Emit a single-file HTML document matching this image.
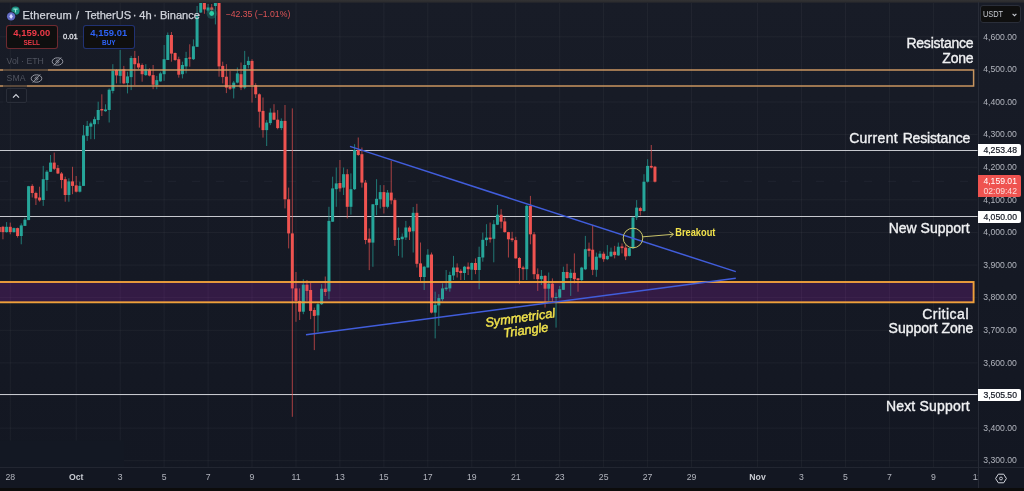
<!DOCTYPE html>
<html lang="en">
<head>
<meta charset="utf-8">
<title>Ethereum / TetherUS · 4h · Binance</title>
<style>
*{box-sizing:border-box;margin:0;padding:0}
html,body{width:1024px;height:491px;overflow:hidden;background:#131722}
body{background:linear-gradient(to bottom,#181c27 0,#131722 470px,#131722 100%)}
body{position:relative;font-family:"Liberation Sans",sans-serif;color:#d1d4dc}
#chart{position:absolute;left:0;top:0;width:1024px;height:491px}
.topbar{position:absolute;left:0;top:0;width:1024px;height:3px;background:linear-gradient(#323234 0,#2c2c2e 60%,#1d2029 100%)}
.botbar{position:absolute;left:0;top:488px;width:1024px;height:3px;background:#0c0c0c}
.paxis{position:absolute;left:977.5px;top:2px;width:46.5px;height:486px;border-left:1px solid #272b36;z-index:2;pointer-events:none}
.taxis{position:absolute;left:0;top:467px;width:1024px;height:21px;background:#131722;border-top:1px solid #222631}
.tclip{position:absolute;left:0;top:0;width:977.5px;height:100%;overflow:hidden}
.pl{position:absolute;left:983.3px;width:40px;height:12px;line-height:12px;font-size:8.65px;color:#b2b5be;white-space:nowrap}
.tl{position:absolute;top:3.4px;width:40px;text-align:center;font-size:8.7px;line-height:12px;color:#b2b5be}
.tl.b{font-weight:700;color:#c8cbd2}
.tag{z-index:3;position:absolute;left:977.5px;width:43.3px;height:12px;line-height:12px;font-size:8.65px;background:#fff;color:#131722;border-radius:0 2px 2px 0;padding-left:5.9px;white-space:nowrap;-webkit-text-stroke:0.2px #131722}
.ptag{z-index:3;position:absolute;left:977.5px;top:175.3px;width:43.3px;height:22px;background:#ef5350;color:#fff;border-radius:0 2px 2px 0;font-size:8.65px;line-height:10.3px;padding:0.6px 0 0 5.9px;white-space:nowrap}
.ptag span{display:block;color:#fbd9d8}
.usdt{position:absolute;left:980.4px;top:5.3px;width:41px;height:18.2px;border:1px solid #2a2e39;border-radius:3px;background:#0f0f0f;font-size:8.8px;line-height:16px;padding-left:1.6px;color:#c8cbd2}
.usdt span{display:inline-block;transform:scaleX(0.84);transform-origin:0 50%}
.usdt svg{position:absolute;right:3px;top:6.6px}
.lbl{position:absolute;right:51px;text-align:right;font-size:14px;line-height:14px;color:#f0f1f3;white-space:pre;-webkit-text-stroke:0.36px #f0f1f3}
.hdr{position:absolute;left:0;top:7.9px;font-size:11.1px;line-height:14px;color:#d1d4dc;white-space:nowrap;-webkit-text-stroke:0.25px #d1d4dc}
.hdr span{position:absolute;top:0}
.chg{position:absolute;left:225.6px;top:8.2px;font-size:8.7px;line-height:12px;color:#db5456;white-space:nowrap}
.btn{position:absolute;top:25px;width:51.6px;height:24.4px;border-radius:3px;background:#0f0f0f;text-align:center;font-weight:700}
.btn b{display:block;font-size:9.4px;line-height:10px;margin-top:1.9px;letter-spacing:0.05px}
.btn i{display:block;font-style:normal;font-size:7.7px;line-height:9px;font-weight:700;transform:scaleX(0.84);margin-top:0.2px}
.sell{left:6px;border:1px solid rgba(242,80,95,0.42);color:#ee3a48}
.buy{left:83px;border:1px solid rgba(60,100,255,0.42);color:#2d62f5}
.spread{position:absolute;left:63px;top:31.7px;font-size:7.6px;line-height:10px;color:#e0e2e8;-webkit-text-stroke:0.3px #e0e2e8}
.ind{position:absolute;left:6.6px;font-size:8.7px;line-height:12px;color:#50545f;white-space:nowrap}
.col{position:absolute;left:5.8px;top:88.4px;width:21px;height:15px;border:1px solid #2a2e39;border-radius:2px}
</style>
</head>
<body>
<svg id="chart" width="1024" height="491" viewBox="0 0 1024 491">
<g stroke="rgba(255,255,255,0.045)" stroke-width="1" shape-rendering="auto"><line x1="0" y1="460.73" x2="977.5" y2="460.73"/><line x1="0" y1="428.12" x2="977.5" y2="428.12"/><line x1="0" y1="395.51" x2="977.5" y2="395.51"/><line x1="0" y1="362.9" x2="977.5" y2="362.9"/><line x1="0" y1="330.29" x2="977.5" y2="330.29"/><line x1="0" y1="297.68" x2="977.5" y2="297.68"/><line x1="0" y1="265.07" x2="977.5" y2="265.07"/><line x1="0" y1="232.46" x2="977.5" y2="232.46"/><line x1="0" y1="199.85" x2="977.5" y2="199.85"/><line x1="0" y1="167.24" x2="977.5" y2="167.24"/><line x1="0" y1="134.63" x2="977.5" y2="134.63"/><line x1="0" y1="102.02" x2="977.5" y2="102.02"/><line x1="0" y1="69.41" x2="977.5" y2="69.41"/><line x1="0" y1="36.8" x2="977.5" y2="36.8"/><line x1="10.27" y1="2" x2="10.27" y2="467"/><line x1="76.2" y1="2" x2="76.2" y2="467"/><line x1="120.16" y1="2" x2="120.16" y2="467"/><line x1="164.11" y1="2" x2="164.11" y2="467"/><line x1="208.07" y1="2" x2="208.07" y2="467"/><line x1="252.02" y1="2" x2="252.02" y2="467"/><line x1="295.98" y1="2" x2="295.98" y2="467"/><line x1="339.94" y1="2" x2="339.94" y2="467"/><line x1="383.89" y1="2" x2="383.89" y2="467"/><line x1="427.85" y1="2" x2="427.85" y2="467"/><line x1="471.8" y1="2" x2="471.8" y2="467"/><line x1="515.76" y1="2" x2="515.76" y2="467"/><line x1="559.72" y1="2" x2="559.72" y2="467"/><line x1="603.67" y1="2" x2="603.67" y2="467"/><line x1="647.63" y1="2" x2="647.63" y2="467"/><line x1="691.58" y1="2" x2="691.58" y2="467"/><line x1="757.52" y1="2" x2="757.52" y2="467"/><line x1="801.47" y1="2" x2="801.47" y2="467"/><line x1="845.43" y1="2" x2="845.43" y2="467"/><line x1="889.39" y1="2" x2="889.39" y2="467"/><line x1="933.34" y1="2" x2="933.34" y2="467"/></g>
<rect x="0" y="440.5" width="124" height="27" fill="#131823"/>
<line x1="0" y1="150.45" x2="977.5" y2="150.45" stroke="#c6c8ce" stroke-width="1.05"/>
<line x1="0" y1="216.55" x2="977.5" y2="216.55" stroke="#c6c8ce" stroke-width="1.05"/>
<line x1="0" y1="394.5" x2="977.5" y2="394.5" stroke="#c6c8ce" stroke-width="1.05"/>
<line x1="0" y1="181.3" x2="977" y2="181.3" stroke="rgba(200,205,225,0.06)" stroke-width="1" stroke-dasharray="8 16"/>
<rect x="-5" y="282" width="978.6" height="20.3" fill="rgba(150,36,176,0.2)"/>
<g stroke-width="0.8" opacity="0.85"><line x1="-0.72" y1="226" x2="-0.72" y2="233" stroke="#ef5350"/><line x1="2.94" y1="225.9" x2="2.94" y2="239.3" stroke="#ef5350"/><line x1="6.6" y1="222.1" x2="6.6" y2="232.6" stroke="#26a69a"/><line x1="10.27" y1="222.6" x2="10.27" y2="234.3" stroke="#ef5350"/><line x1="13.93" y1="227.6" x2="13.93" y2="232.6" stroke="#26a69a"/><line x1="17.59" y1="227.6" x2="17.59" y2="237.6" stroke="#ef5350"/><line x1="21.26" y1="223.4" x2="21.26" y2="244.3" stroke="#26a69a"/><line x1="24.92" y1="217.6" x2="24.92" y2="225.9" stroke="#26a69a"/><line x1="28.58" y1="185.9" x2="28.58" y2="220.1" stroke="#26a69a"/><line x1="32.24" y1="184.2" x2="32.24" y2="197.5" stroke="#ef5350"/><line x1="35.91" y1="191.7" x2="35.91" y2="205" stroke="#ef5350"/><line x1="39.57" y1="186.7" x2="39.57" y2="201.7" stroke="#ef5350"/><line x1="43.23" y1="165.9" x2="43.23" y2="205.9" stroke="#26a69a"/><line x1="46.9" y1="170.1" x2="46.9" y2="190.9" stroke="#26a69a"/><line x1="50.56" y1="155" x2="50.56" y2="172" stroke="#26a69a"/><line x1="54.22" y1="152.6" x2="54.22" y2="170" stroke="#ef5350"/><line x1="57.89" y1="165" x2="57.89" y2="174" stroke="#ef5350"/><line x1="61.55" y1="172" x2="61.55" y2="188.4" stroke="#ef5350"/><line x1="65.21" y1="176.7" x2="65.21" y2="201.7" stroke="#ef5350"/><line x1="68.87" y1="178.3" x2="68.87" y2="201.7" stroke="#26a69a"/><line x1="72.54" y1="166.8" x2="72.54" y2="194.2" stroke="#ef5350"/><line x1="76.2" y1="176" x2="76.2" y2="192.5" stroke="#ef5350"/><line x1="79.86" y1="181.7" x2="79.86" y2="192.5" stroke="#26a69a"/><line x1="83.53" y1="125" x2="83.53" y2="185.9" stroke="#26a69a"/><line x1="87.19" y1="120.9" x2="87.19" y2="140.9" stroke="#26a69a"/><line x1="90.85" y1="121.7" x2="90.85" y2="139.2" stroke="#26a69a"/><line x1="94.52" y1="116.7" x2="94.52" y2="139.2" stroke="#26a69a"/><line x1="98.18" y1="101.7" x2="98.18" y2="124.2" stroke="#26a69a"/><line x1="101.84" y1="94.3" x2="101.84" y2="116" stroke="#ef5350"/><line x1="105.5" y1="104.3" x2="105.5" y2="111.8" stroke="#26a69a"/><line x1="109.17" y1="88.4" x2="109.17" y2="122.5" stroke="#26a69a"/><line x1="112.83" y1="64.2" x2="112.83" y2="93.4" stroke="#26a69a"/><line x1="116.49" y1="69.2" x2="116.49" y2="83.4" stroke="#ef5350"/><line x1="120.16" y1="50" x2="120.16" y2="83.4" stroke="#26a69a"/><line x1="123.82" y1="65.9" x2="123.82" y2="84.2" stroke="#ef5350"/><line x1="127.48" y1="71.7" x2="127.48" y2="93.4" stroke="#26a69a"/><line x1="131.15" y1="55.9" x2="131.15" y2="90.1" stroke="#26a69a"/><line x1="134.81" y1="50.9" x2="134.81" y2="85.1" stroke="#ef5350"/><line x1="138.47" y1="55.9" x2="138.47" y2="69.2" stroke="#ef5350"/><line x1="142.13" y1="63.4" x2="142.13" y2="81.7" stroke="#ef5350"/><line x1="145.8" y1="64.2" x2="145.8" y2="75.9" stroke="#26a69a"/><line x1="149.46" y1="68.4" x2="149.46" y2="76.4" stroke="#ef5350"/><line x1="153.12" y1="65" x2="153.12" y2="89.2" stroke="#ef5350"/><line x1="156.79" y1="75.9" x2="156.79" y2="89.2" stroke="#26a69a"/><line x1="160.45" y1="71.7" x2="160.45" y2="81.7" stroke="#26a69a"/><line x1="164.11" y1="45" x2="164.11" y2="80.9" stroke="#26a69a"/><line x1="167.77" y1="32.5" x2="167.77" y2="60" stroke="#26a69a"/><line x1="171.44" y1="32" x2="171.44" y2="61.7" stroke="#ef5350"/><line x1="175.1" y1="52.5" x2="175.1" y2="60.9" stroke="#ef5350"/><line x1="178.76" y1="56.7" x2="178.76" y2="77.6" stroke="#ef5350"/><line x1="182.43" y1="61.7" x2="182.43" y2="78.4" stroke="#26a69a"/><line x1="186.09" y1="51.8" x2="186.09" y2="73.4" stroke="#26a69a"/><line x1="189.75" y1="44.3" x2="189.75" y2="66.7" stroke="#ef5350"/><line x1="193.42" y1="39.4" x2="193.42" y2="60" stroke="#26a69a"/><line x1="197.08" y1="6" x2="197.08" y2="47" stroke="#26a69a"/><line x1="200.74" y1="2" x2="200.74" y2="13" stroke="#26a69a"/><line x1="204.4" y1="2" x2="204.4" y2="13.8" stroke="#ef5350"/><line x1="208.07" y1="4" x2="208.07" y2="12.5" stroke="#26a69a"/><line x1="211.73" y1="4" x2="211.73" y2="14" stroke="#ef5350"/><line x1="215.39" y1="2" x2="215.39" y2="24.4" stroke="#26a69a"/><line x1="219.06" y1="2" x2="219.06" y2="76.7" stroke="#ef5350"/><line x1="222.72" y1="61.7" x2="222.72" y2="83.4" stroke="#ef5350"/><line x1="226.38" y1="64.2" x2="226.38" y2="93.1" stroke="#ef5350"/><line x1="230.05" y1="70.9" x2="230.05" y2="90" stroke="#ef5350"/><line x1="233.71" y1="80.9" x2="233.71" y2="98.4" stroke="#26a69a"/><line x1="237.37" y1="67.5" x2="237.37" y2="83.4" stroke="#26a69a"/><line x1="241.03" y1="62.5" x2="241.03" y2="90.1" stroke="#ef5350"/><line x1="244.7" y1="50.9" x2="244.7" y2="89.2" stroke="#26a69a"/><line x1="248.36" y1="56.7" x2="248.36" y2="68.4" stroke="#26a69a"/><line x1="252.02" y1="59.2" x2="252.02" y2="102.6" stroke="#ef5350"/><line x1="255.69" y1="83.2" x2="255.69" y2="98" stroke="#ef5350"/><line x1="259.35" y1="93.4" x2="259.35" y2="127.6" stroke="#ef5350"/><line x1="263.01" y1="97.5" x2="263.01" y2="137.6" stroke="#ef5350"/><line x1="266.68" y1="120.1" x2="266.68" y2="146" stroke="#26a69a"/><line x1="270.34" y1="108.4" x2="270.34" y2="125.1" stroke="#26a69a"/><line x1="274" y1="104.2" x2="274" y2="120.1" stroke="#ef5350"/><line x1="277.67" y1="110.1" x2="277.67" y2="129.3" stroke="#ef5350"/><line x1="281.33" y1="118.4" x2="281.33" y2="130.1" stroke="#26a69a"/><line x1="284.99" y1="105" x2="284.99" y2="208.4" stroke="#ef5350"/><line x1="288.65" y1="187.6" x2="288.65" y2="248.4" stroke="#ef5350"/><line x1="292.32" y1="108.4" x2="292.32" y2="416.8" stroke="#ef5350"/><line x1="295.98" y1="272" x2="295.98" y2="321.8" stroke="#ef5350"/><line x1="299.64" y1="288.4" x2="299.64" y2="320" stroke="#ef5350"/><line x1="303.31" y1="279.2" x2="303.31" y2="314.2" stroke="#26a69a"/><line x1="306.97" y1="280" x2="306.97" y2="300.9" stroke="#ef5350"/><line x1="310.63" y1="282.5" x2="310.63" y2="319.2" stroke="#ef5350"/><line x1="314.3" y1="307.6" x2="314.3" y2="350.1" stroke="#ef5350"/><line x1="317.96" y1="301.7" x2="317.96" y2="331.8" stroke="#26a69a"/><line x1="321.62" y1="284.2" x2="321.62" y2="305" stroke="#26a69a"/><line x1="325.28" y1="276.5" x2="325.28" y2="295.9" stroke="#ef5350"/><line x1="328.95" y1="206.8" x2="328.95" y2="299.2" stroke="#26a69a"/><line x1="332.61" y1="176.7" x2="332.61" y2="222" stroke="#26a69a"/><line x1="336.27" y1="167.5" x2="336.27" y2="206.8" stroke="#26a69a"/><line x1="339.94" y1="160" x2="339.94" y2="191.7" stroke="#ef5350"/><line x1="343.6" y1="167.5" x2="343.6" y2="195" stroke="#26a69a"/><line x1="347.26" y1="169.2" x2="347.26" y2="218.4" stroke="#ef5350"/><line x1="350.92" y1="173.4" x2="350.92" y2="214.6" stroke="#26a69a"/><line x1="354.59" y1="144.2" x2="354.59" y2="190" stroke="#26a69a"/><line x1="358.25" y1="137.5" x2="358.25" y2="155.9" stroke="#ef5350"/><line x1="361.91" y1="147.5" x2="361.91" y2="187.6" stroke="#ef5350"/><line x1="365.58" y1="180" x2="365.58" y2="244.2" stroke="#ef5350"/><line x1="369.24" y1="228.4" x2="369.24" y2="270.1" stroke="#ef5350"/><line x1="372.9" y1="204" x2="372.9" y2="266.8" stroke="#26a69a"/><line x1="376.57" y1="179.2" x2="376.57" y2="215.1" stroke="#26a69a"/><line x1="380.23" y1="185.1" x2="380.23" y2="208.4" stroke="#26a69a"/><line x1="383.89" y1="185.1" x2="383.89" y2="213.5" stroke="#ef5350"/><line x1="387.55" y1="190" x2="387.55" y2="208.4" stroke="#26a69a"/><line x1="391.22" y1="160.9" x2="391.22" y2="204.3" stroke="#ef5350"/><line x1="394.88" y1="198.4" x2="394.88" y2="245.9" stroke="#ef5350"/><line x1="398.54" y1="227.5" x2="398.54" y2="255.9" stroke="#26a69a"/><line x1="402.21" y1="233.4" x2="402.21" y2="257.6" stroke="#26a69a"/><line x1="405.87" y1="220.9" x2="405.87" y2="240" stroke="#26a69a"/><line x1="409.53" y1="225.9" x2="409.53" y2="240" stroke="#ef5350"/><line x1="413.2" y1="207" x2="413.2" y2="252.5" stroke="#26a69a"/><line x1="416.86" y1="203.8" x2="416.86" y2="267.5" stroke="#ef5350"/><line x1="420.52" y1="242.5" x2="420.52" y2="280.9" stroke="#ef5350"/><line x1="424.18" y1="265.9" x2="424.18" y2="290" stroke="#26a69a"/><line x1="427.85" y1="249.2" x2="427.85" y2="267.5" stroke="#26a69a"/><line x1="431.51" y1="252.5" x2="431.51" y2="313.4" stroke="#ef5350"/><line x1="435.17" y1="291.7" x2="435.17" y2="338.4" stroke="#26a69a"/><line x1="438.84" y1="294.2" x2="438.84" y2="325.9" stroke="#26a69a"/><line x1="442.5" y1="283.4" x2="442.5" y2="300.9" stroke="#26a69a"/><line x1="446.16" y1="270" x2="446.16" y2="290.9" stroke="#26a69a"/><line x1="449.83" y1="271.7" x2="449.83" y2="291.7" stroke="#26a69a"/><line x1="453.49" y1="255.9" x2="453.49" y2="280" stroke="#26a69a"/><line x1="457.15" y1="263.4" x2="457.15" y2="277.5" stroke="#ef5350"/><line x1="460.81" y1="269.2" x2="460.81" y2="280" stroke="#ef5350"/><line x1="464.48" y1="265.9" x2="464.48" y2="280" stroke="#26a69a"/><line x1="468.14" y1="262.5" x2="468.14" y2="275" stroke="#ef5350"/><line x1="471.8" y1="262.5" x2="471.8" y2="280" stroke="#26a69a"/><line x1="475.47" y1="258.4" x2="475.47" y2="274.2" stroke="#ef5350"/><line x1="479.13" y1="246.7" x2="479.13" y2="289.2" stroke="#26a69a"/><line x1="482.79" y1="232.6" x2="482.79" y2="261.7" stroke="#26a69a"/><line x1="486.46" y1="224.2" x2="486.46" y2="246" stroke="#26a69a"/><line x1="490.12" y1="222.6" x2="490.12" y2="242.6" stroke="#ef5350"/><line x1="493.78" y1="220.1" x2="493.78" y2="262.3" stroke="#26a69a"/><line x1="497.44" y1="205" x2="497.44" y2="225.1" stroke="#26a69a"/><line x1="501.11" y1="209.2" x2="501.11" y2="228.4" stroke="#ef5350"/><line x1="504.77" y1="217.6" x2="504.77" y2="232.6" stroke="#ef5350"/><line x1="508.43" y1="231.8" x2="508.43" y2="257.5" stroke="#ef5350"/><line x1="512.1" y1="231.8" x2="512.1" y2="241.8" stroke="#ef5350"/><line x1="515.76" y1="236.8" x2="515.76" y2="258.5" stroke="#ef5350"/><line x1="519.42" y1="257" x2="519.42" y2="284.2" stroke="#ef5350"/><line x1="523.09" y1="265.9" x2="523.09" y2="280" stroke="#ef5350"/><line x1="526.75" y1="205" x2="526.75" y2="280" stroke="#26a69a"/><line x1="530.41" y1="195.9" x2="530.41" y2="244.3" stroke="#ef5350"/><line x1="534.08" y1="232.1" x2="534.08" y2="279.2" stroke="#ef5350"/><line x1="537.74" y1="268.4" x2="537.74" y2="290.9" stroke="#ef5350"/><line x1="541.4" y1="270" x2="541.4" y2="285" stroke="#26a69a"/><line x1="545.06" y1="275" x2="545.06" y2="307.6" stroke="#ef5350"/><line x1="548.73" y1="272.5" x2="548.73" y2="300.9" stroke="#26a69a"/><line x1="552.39" y1="278.4" x2="552.39" y2="301.8" stroke="#ef5350"/><line x1="556.05" y1="292.6" x2="556.05" y2="327.6" stroke="#26a69a"/><line x1="559.72" y1="285.9" x2="559.72" y2="298.4" stroke="#26a69a"/><line x1="563.38" y1="266.7" x2="563.38" y2="290" stroke="#26a69a"/><line x1="567.04" y1="263.8" x2="567.04" y2="279.2" stroke="#ef5350"/><line x1="570.71" y1="269.2" x2="570.71" y2="295.9" stroke="#26a69a"/><line x1="574.37" y1="253.4" x2="574.37" y2="283.4" stroke="#ef5350"/><line x1="578.03" y1="278" x2="578.03" y2="291.7" stroke="#ef5350"/><line x1="581.69" y1="266.8" x2="581.69" y2="281" stroke="#26a69a"/><line x1="585.36" y1="235.9" x2="585.36" y2="270.1" stroke="#26a69a"/><line x1="589.02" y1="242.6" x2="589.02" y2="256.7" stroke="#ef5350"/><line x1="592.68" y1="225" x2="592.68" y2="275.1" stroke="#ef5350"/><line x1="596.35" y1="252.6" x2="596.35" y2="276.8" stroke="#26a69a"/><line x1="600.01" y1="250.9" x2="600.01" y2="258.4" stroke="#26a69a"/><line x1="603.67" y1="251.7" x2="603.67" y2="261.8" stroke="#ef5350"/><line x1="607.34" y1="245.1" x2="607.34" y2="260.1" stroke="#26a69a"/><line x1="611" y1="247.6" x2="611" y2="256.7" stroke="#26a69a"/><line x1="614.66" y1="245.9" x2="614.66" y2="258.4" stroke="#ef5350"/><line x1="618.32" y1="242.6" x2="618.32" y2="255.9" stroke="#26a69a"/><line x1="621.99" y1="243.4" x2="621.99" y2="253.4" stroke="#ef5350"/><line x1="625.65" y1="245.1" x2="625.65" y2="260.1" stroke="#ef5350"/><line x1="629.31" y1="247.6" x2="629.31" y2="256.5" stroke="#26a69a"/><line x1="632.98" y1="216.7" x2="632.98" y2="248.6" stroke="#26a69a"/><line x1="636.64" y1="200.1" x2="636.64" y2="220" stroke="#26a69a"/><line x1="640.3" y1="206.8" x2="640.3" y2="215.5" stroke="#ef5350"/><line x1="643.97" y1="174.2" x2="643.97" y2="211.8" stroke="#26a69a"/><line x1="647.63" y1="159.2" x2="647.63" y2="182.6" stroke="#26a69a"/><line x1="651.29" y1="145" x2="651.29" y2="168.4" stroke="#ef5350"/><line x1="654.95" y1="165.9" x2="654.95" y2="182.5" stroke="#ef5350"/></g>
<g><rect x="-2.22" y="227" width="3.0" height="5" fill="#ef5350"/><rect x="1.44" y="226.8" width="3.0" height="5.3" fill="#ef5350"/><rect x="5.1" y="226.8" width="3.0" height="5.3" fill="#26a69a"/><rect x="8.77" y="226.8" width="3.0" height="5.3" fill="#ef5350"/><rect x="12.43" y="228.1" width="3.0" height="4" fill="#26a69a"/><rect x="16.09" y="228.1" width="3.0" height="7.9" fill="#ef5350"/><rect x="19.76" y="225.4" width="3.0" height="10.6" fill="#26a69a"/><rect x="23.42" y="219.7" width="3.0" height="6.2" fill="#26a69a"/><rect x="27.08" y="186.2" width="3.0" height="33.9" fill="#26a69a"/><rect x="30.74" y="185.9" width="3.0" height="7.1" fill="#ef5350"/><rect x="34.41" y="193" width="3.0" height="5.4" fill="#ef5350"/><rect x="38.07" y="197.5" width="3.0" height="2.9" fill="#ef5350"/><rect x="41.73" y="179.2" width="3.0" height="20.8" fill="#26a69a"/><rect x="45.4" y="171.7" width="3.0" height="8.3" fill="#26a69a"/><rect x="49.06" y="162.6" width="3.0" height="9.2" fill="#26a69a"/><rect x="52.72" y="162.6" width="3.0" height="6.2" fill="#ef5350"/><rect x="56.39" y="168.1" width="3.0" height="5.4" fill="#ef5350"/><rect x="60.05" y="173.5" width="3.0" height="6.5" fill="#ef5350"/><rect x="63.71" y="179.2" width="3.0" height="15.8" fill="#ef5350"/><rect x="67.37" y="181.4" width="3.0" height="13.6" fill="#26a69a"/><rect x="71.04" y="181.4" width="3.0" height="4.5" fill="#ef5350"/><rect x="74.7" y="185.4" width="3.0" height="6.3" fill="#ef5350"/><rect x="78.36" y="185.9" width="3.0" height="5.8" fill="#26a69a"/><rect x="82.03" y="135.4" width="3.0" height="50.5" fill="#26a69a"/><rect x="85.69" y="125.9" width="3.0" height="10" fill="#26a69a"/><rect x="89.35" y="123.4" width="3.0" height="3.3" fill="#26a69a"/><rect x="93.02" y="119.2" width="3.0" height="5" fill="#26a69a"/><rect x="96.68" y="110" width="3.0" height="10" fill="#26a69a"/><rect x="100.34" y="109" width="3.0" height="1.5" fill="#ef5350"/><rect x="104" y="109.5" width="3.0" height="1.7" fill="#26a69a"/><rect x="107.67" y="89.7" width="3.0" height="20.3" fill="#26a69a"/><rect x="111.33" y="70.9" width="3.0" height="20" fill="#26a69a"/><rect x="114.99" y="70" width="3.0" height="5.4" fill="#ef5350"/><rect x="118.66" y="69.7" width="3.0" height="6.2" fill="#26a69a"/><rect x="122.32" y="69.2" width="3.0" height="14.2" fill="#ef5350"/><rect x="125.98" y="76.4" width="3.0" height="6.7" fill="#26a69a"/><rect x="129.65" y="58" width="3.0" height="19.1" fill="#26a69a"/><rect x="133.31" y="58" width="3.0" height="6.2" fill="#ef5350"/><rect x="136.97" y="63.4" width="3.0" height="4.1" fill="#ef5350"/><rect x="140.63" y="65" width="3.0" height="9.2" fill="#ef5350"/><rect x="144.3" y="69.2" width="3.0" height="5.9" fill="#26a69a"/><rect x="147.96" y="69.7" width="3.0" height="5.9" fill="#ef5350"/><rect x="151.62" y="75.1" width="3.0" height="9.6" fill="#ef5350"/><rect x="155.29" y="80.1" width="3.0" height="5" fill="#26a69a"/><rect x="158.95" y="73.4" width="3.0" height="8" fill="#26a69a"/><rect x="162.61" y="59.2" width="3.0" height="15" fill="#26a69a"/><rect x="166.27" y="35" width="3.0" height="25" fill="#26a69a"/><rect x="169.94" y="35" width="3.0" height="18.6" fill="#ef5350"/><rect x="173.6" y="53" width="3.0" height="7" fill="#ef5350"/><rect x="177.26" y="59.2" width="3.0" height="15.5" fill="#ef5350"/><rect x="180.93" y="65" width="3.0" height="9.2" fill="#26a69a"/><rect x="184.59" y="58" width="3.0" height="8.4" fill="#26a69a"/><rect x="188.25" y="57.5" width="3.0" height="1.2" fill="#ef5350"/><rect x="191.92" y="46.3" width="3.0" height="12.9" fill="#26a69a"/><rect x="195.58" y="16.3" width="3.0" height="30.5" fill="#26a69a"/><rect x="199.24" y="2" width="3.0" height="10.5" fill="#26a69a"/><rect x="202.9" y="2" width="3.0" height="7.4" fill="#ef5350"/><rect x="206.57" y="7.5" width="3.0" height="3.1" fill="#26a69a"/><rect x="210.23" y="7.5" width="3.0" height="2.5" fill="#ef5350"/><rect x="213.89" y="2" width="3.0" height="4" fill="#26a69a"/><rect x="217.56" y="2" width="3.0" height="64.4" fill="#ef5350"/><rect x="221.22" y="65.9" width="3.0" height="11.2" fill="#ef5350"/><rect x="224.88" y="76.7" width="3.0" height="10.9" fill="#ef5350"/><rect x="228.55" y="86.7" width="3.0" height="2" fill="#ef5350"/><rect x="232.21" y="82.6" width="3.0" height="5.8" fill="#26a69a"/><rect x="235.87" y="73.4" width="3.0" height="9.2" fill="#26a69a"/><rect x="239.53" y="74.2" width="3.0" height="13.4" fill="#ef5350"/><rect x="243.2" y="65" width="3.0" height="22.6" fill="#26a69a"/><rect x="246.86" y="60.9" width="3.0" height="4.1" fill="#26a69a"/><rect x="250.52" y="60.9" width="3.0" height="24.2" fill="#ef5350"/><rect x="254.19" y="85.1" width="3.0" height="9.2" fill="#ef5350"/><rect x="257.85" y="94.3" width="3.0" height="17.4" fill="#ef5350"/><rect x="261.51" y="110.9" width="3.0" height="19.2" fill="#ef5350"/><rect x="265.18" y="122.6" width="3.0" height="7.5" fill="#26a69a"/><rect x="268.84" y="112.6" width="3.0" height="10.5" fill="#26a69a"/><rect x="272.5" y="112.6" width="3.0" height="7.1" fill="#ef5350"/><rect x="276.17" y="119.7" width="3.0" height="8.4" fill="#ef5350"/><rect x="279.83" y="120.9" width="3.0" height="7.2" fill="#26a69a"/><rect x="283.49" y="120.9" width="3.0" height="78.4" fill="#ef5350"/><rect x="287.15" y="199.3" width="3.0" height="34.1" fill="#ef5350"/><rect x="290.82" y="233.4" width="3.0" height="55" fill="#ef5350"/><rect x="294.48" y="288.4" width="3.0" height="12.5" fill="#ef5350"/><rect x="298.14" y="300.9" width="3.0" height="10.8" fill="#ef5350"/><rect x="301.81" y="284.7" width="3.0" height="27" fill="#26a69a"/><rect x="305.47" y="284.7" width="3.0" height="6.2" fill="#ef5350"/><rect x="309.13" y="290" width="3.0" height="20.9" fill="#ef5350"/><rect x="312.8" y="310" width="3.0" height="5.9" fill="#ef5350"/><rect x="316.46" y="304.2" width="3.0" height="11.2" fill="#26a69a"/><rect x="320.12" y="288.7" width="3.0" height="15.5" fill="#26a69a"/><rect x="323.78" y="288.7" width="3.0" height="3.3" fill="#ef5350"/><rect x="327.45" y="220.9" width="3.0" height="70.5" fill="#26a69a"/><rect x="331.11" y="188.4" width="3.0" height="33.3" fill="#26a69a"/><rect x="334.77" y="183.4" width="3.0" height="5.8" fill="#26a69a"/><rect x="338.44" y="183" width="3.0" height="5.4" fill="#ef5350"/><rect x="342.1" y="174.2" width="3.0" height="13.4" fill="#26a69a"/><rect x="345.76" y="174.2" width="3.0" height="32.6" fill="#ef5350"/><rect x="349.42" y="189.2" width="3.0" height="17.6" fill="#26a69a"/><rect x="353.09" y="150" width="3.0" height="39.2" fill="#26a69a"/><rect x="356.75" y="150" width="3.0" height="5" fill="#ef5350"/><rect x="360.41" y="154.2" width="3.0" height="28.4" fill="#ef5350"/><rect x="364.08" y="182.6" width="3.0" height="57.4" fill="#ef5350"/><rect x="367.74" y="238.7" width="3.0" height="3.9" fill="#ef5350"/><rect x="371.4" y="204.3" width="3.0" height="38.3" fill="#26a69a"/><rect x="375.07" y="198.8" width="3.0" height="6.3" fill="#26a69a"/><rect x="378.73" y="192.1" width="3.0" height="7.2" fill="#26a69a"/><rect x="382.39" y="192.1" width="3.0" height="14.7" fill="#ef5350"/><rect x="386.05" y="192.6" width="3.0" height="14.2" fill="#26a69a"/><rect x="389.72" y="192.6" width="3.0" height="7.8" fill="#ef5350"/><rect x="393.38" y="200.1" width="3.0" height="39.9" fill="#ef5350"/><rect x="397.04" y="238" width="3.0" height="2" fill="#26a69a"/><rect x="400.71" y="236.7" width="3.0" height="2.5" fill="#26a69a"/><rect x="404.37" y="227.5" width="3.0" height="10" fill="#26a69a"/><rect x="408.03" y="227.5" width="3.0" height="4.2" fill="#ef5350"/><rect x="411.7" y="212.8" width="3.0" height="18.5" fill="#26a69a"/><rect x="415.36" y="212.8" width="3.0" height="51" fill="#ef5350"/><rect x="419.02" y="263.4" width="3.0" height="13.6" fill="#ef5350"/><rect x="422.68" y="266.7" width="3.0" height="10.3" fill="#26a69a"/><rect x="426.35" y="254.7" width="3.0" height="12.8" fill="#26a69a"/><rect x="430.01" y="254.5" width="3.0" height="58.1" fill="#ef5350"/><rect x="433.67" y="304.8" width="3.0" height="7.8" fill="#26a69a"/><rect x="437.34" y="298.1" width="3.0" height="7.3" fill="#26a69a"/><rect x="441" y="288.4" width="3.0" height="10.8" fill="#26a69a"/><rect x="444.66" y="287.6" width="3.0" height="1.6" fill="#26a69a"/><rect x="448.33" y="275" width="3.0" height="13.4" fill="#26a69a"/><rect x="451.99" y="267.5" width="3.0" height="8" fill="#26a69a"/><rect x="455.65" y="267.5" width="3.0" height="4.5" fill="#ef5350"/><rect x="459.31" y="270.9" width="3.0" height="2.1" fill="#ef5350"/><rect x="462.98" y="266.7" width="3.0" height="6.3" fill="#26a69a"/><rect x="466.64" y="266.7" width="3.0" height="2.5" fill="#ef5350"/><rect x="470.3" y="263" width="3.0" height="6.7" fill="#26a69a"/><rect x="473.97" y="263" width="3.0" height="7" fill="#ef5350"/><rect x="477.63" y="257" width="3.0" height="13" fill="#26a69a"/><rect x="481.29" y="239.8" width="3.0" height="17.7" fill="#26a69a"/><rect x="484.96" y="237.6" width="3.0" height="2.5" fill="#26a69a"/><rect x="488.62" y="237.6" width="3.0" height="1.7" fill="#ef5350"/><rect x="492.28" y="224.2" width="3.0" height="14.6" fill="#26a69a"/><rect x="495.94" y="214.7" width="3.0" height="10" fill="#26a69a"/><rect x="499.61" y="214.7" width="3.0" height="7" fill="#ef5350"/><rect x="503.27" y="221.4" width="3.0" height="10.7" fill="#ef5350"/><rect x="506.93" y="232.1" width="3.0" height="7.2" fill="#ef5350"/><rect x="510.6" y="238.4" width="3.0" height="1.7" fill="#ef5350"/><rect x="514.26" y="240.1" width="3.0" height="18.3" fill="#ef5350"/><rect x="517.92" y="258" width="3.0" height="10" fill="#ef5350"/><rect x="521.59" y="267.5" width="3.0" height="1.7" fill="#ef5350"/><rect x="525.25" y="205.9" width="3.0" height="63.3" fill="#26a69a"/><rect x="528.91" y="205.9" width="3.0" height="28.4" fill="#ef5350"/><rect x="532.58" y="234.3" width="3.0" height="39.9" fill="#ef5350"/><rect x="536.24" y="274.2" width="3.0" height="5" fill="#ef5350"/><rect x="539.9" y="275.9" width="3.0" height="3.3" fill="#26a69a"/><rect x="543.56" y="275.9" width="3.0" height="12.8" fill="#ef5350"/><rect x="547.23" y="283.7" width="3.0" height="5" fill="#26a69a"/><rect x="550.89" y="283.7" width="3.0" height="13.9" fill="#ef5350"/><rect x="554.55" y="297" width="3.0" height="1" fill="#26a69a"/><rect x="558.22" y="289.2" width="3.0" height="8.4" fill="#26a69a"/><rect x="561.88" y="272" width="3.0" height="17.8" fill="#26a69a"/><rect x="565.54" y="272" width="3.0" height="6" fill="#ef5350"/><rect x="569.21" y="272.8" width="3.0" height="5.2" fill="#26a69a"/><rect x="572.87" y="272.8" width="3.0" height="6.4" fill="#ef5350"/><rect x="576.53" y="278.4" width="3.0" height="1.6" fill="#ef5350"/><rect x="580.19" y="267.6" width="3.0" height="12.5" fill="#26a69a"/><rect x="583.86" y="249.2" width="3.0" height="20.1" fill="#26a69a"/><rect x="587.52" y="248.7" width="3.0" height="2.2" fill="#ef5350"/><rect x="591.18" y="249.7" width="3.0" height="20.1" fill="#ef5350"/><rect x="594.85" y="256.7" width="3.0" height="13.1" fill="#26a69a"/><rect x="598.51" y="253.7" width="3.0" height="3.9" fill="#26a69a"/><rect x="602.17" y="253.7" width="3.0" height="5.5" fill="#ef5350"/><rect x="605.84" y="255.9" width="3.0" height="3.3" fill="#26a69a"/><rect x="609.5" y="251.7" width="3.0" height="4.7" fill="#26a69a"/><rect x="613.16" y="251.7" width="3.0" height="3.4" fill="#ef5350"/><rect x="616.82" y="246.7" width="3.0" height="8.7" fill="#26a69a"/><rect x="620.49" y="246.4" width="3.0" height="1.7" fill="#ef5350"/><rect x="624.15" y="247.6" width="3.0" height="8.8" fill="#ef5350"/><rect x="627.81" y="248.1" width="3.0" height="7.8" fill="#26a69a"/><rect x="631.48" y="217.5" width="3.0" height="30.9" fill="#26a69a"/><rect x="635.14" y="207.6" width="3.0" height="9.9" fill="#26a69a"/><rect x="638.8" y="208.1" width="3.0" height="2.9" fill="#ef5350"/><rect x="642.47" y="181.7" width="3.0" height="29.3" fill="#26a69a"/><rect x="646.13" y="165.9" width="3.0" height="15.8" fill="#26a69a"/><rect x="649.79" y="165.9" width="3.0" height="1.7" fill="#ef5350"/><rect x="653.45" y="166.7" width="3.0" height="15" fill="#ef5350"/></g>
<rect x="-5" y="70" width="978.6" height="16" fill="rgba(20,40,70,0.04)" stroke="#d8a064" stroke-opacity="0.92" stroke-width="1.5"/>
<rect x="-5" y="282" width="978.6" height="20.3" fill="rgba(150,36,176,0.05)" stroke="#f6a43c" stroke-opacity="0.97" stroke-width="1.9"/>
<line x1="350" y1="146.4" x2="735.8" y2="271.65" stroke="#415ddb" stroke-width="1.5"/>
<line x1="306" y1="334.8" x2="735.8" y2="278.2" stroke="#415ddb" stroke-width="1.5"/>
<circle cx="633" cy="238" r="9.8" fill="none" stroke="#c9c36a" stroke-width="1"/>
<path d="M643 236.8 L673.3 234.3 M669.3 231.6 L673.5 234.3 L669.8 237.4" fill="none" stroke="#c9c36a" stroke-width="1"/>
<text transform="translate(675.3,236.4) scale(0.89,1)" fill="#f2e34c" font-size="10.4" font-weight="700" font-family="Liberation Sans, sans-serif">Breakout</text>
<g transform="translate(521,324) rotate(-8)" fill="#f2e34c" stroke="#f2e34c" stroke-width="0.4" font-size="12.8" font-style="italic" font-weight="400" font-family="Liberation Sans, sans-serif" text-anchor="middle"><text x="0" y="-2">Symmetrical</text><text x="4" y="11">Triangle</text></g>
</svg>
<div class="paxis"></div>
<div class="taxis"><div class="tclip">
<div class="tl" style="left:-9.73px">28</div>
<div class="tl b" style="left:56.2px">Oct</div>
<div class="tl" style="left:100.16px">3</div>
<div class="tl" style="left:144.11px">5</div>
<div class="tl" style="left:188.07px">7</div>
<div class="tl" style="left:232.02px">9</div>
<div class="tl" style="left:275.98px">11</div>
<div class="tl" style="left:319.94px">13</div>
<div class="tl" style="left:363.89px">15</div>
<div class="tl" style="left:407.85px">17</div>
<div class="tl" style="left:451.8px">19</div>
<div class="tl" style="left:495.76px">21</div>
<div class="tl" style="left:539.72px">23</div>
<div class="tl" style="left:583.67px">25</div>
<div class="tl" style="left:627.63px">27</div>
<div class="tl" style="left:671.58px">29</div>
<div class="tl b" style="left:737.52px">Nov</div>
<div class="tl" style="left:781.47px">3</div>
<div class="tl" style="left:825.43px">5</div>
<div class="tl" style="left:869.39px">7</div>
<div class="tl" style="left:913.34px">9</div>
<div class="tl" style="left:957.3px">11</div>
</div>
<svg style="position:absolute;left:994.4px;top:3.8px" width="14" height="13" viewBox="0 0 14 13"><path d="M1.6 6.5 L4.3 2.2 L9.7 2.2 L12.4 6.5 L9.7 10.8 L4.3 10.8 Z" fill="none" stroke="#d1d4dc" stroke-width="1" stroke-linejoin="round"/><circle cx="7" cy="6.5" r="1.45" fill="none" stroke="#d1d4dc" stroke-width="0.9"/></svg>
</div>
<div class="pl" style="top:30.5px">4,600.00</div>
<div class="pl" style="top:63.11px">4,500.00</div>
<div class="pl" style="top:95.72px">4,400.00</div>
<div class="pl" style="top:128.33px">4,300.00</div>
<div class="pl" style="top:160.94px">4,200.00</div>
<div class="pl" style="top:193.55px">4,100.00</div>
<div class="pl" style="top:226.16px">4,000.00</div>
<div class="pl" style="top:258.77px">3,900.00</div>
<div class="pl" style="top:291.38px">3,800.00</div>
<div class="pl" style="top:323.99px">3,700.00</div>
<div class="pl" style="top:356.6px">3,600.00</div>
<div class="pl" style="top:421.82px">3,400.00</div>
<div class="pl" style="top:454.43px">3,300.00</div>
<div class="tag" style="top:144.4px">4,253.48</div>
<div class="ptag">4,159.01<span>02:09:42</span></div>
<div class="tag" style="top:210.6px">4,050.00</div>
<div class="tag" style="top:388.6px">3,505.50</div>
<div class="usdt"><span>USDT</span><svg width="5" height="4" viewBox="0 0 5 4"><path d="M0.6 0.8 L2.5 2.7 L4.4 0.8" fill="none" stroke="#c8cbd2" stroke-width="1.1"/></svg></div>

<div class="lbl" style="top:36.3px;line-height:14.2px;letter-spacing:-0.24px;right:50.7px">Resistance
Zone</div>
<div class="lbl" style="top:131.3px;right:53.8px;letter-spacing:-0.17px;word-spacing:1px"><span style="letter-spacing:0.3px">Current</span> Resistance</div>
<div class="lbl" style="top:221.4px;right:54.4px">New Support</div>
<div class="lbl" style="top:306.5px;line-height:14px;right:50.6px"><span style="letter-spacing:0.5px">Critical </span>
Support Zone</div>
<div class="lbl" style="top:398.6px;right:54.2px;letter-spacing:0.18px">Next Support</div>

<svg style="position:absolute;left:5px;top:5px" width="17" height="18" viewBox="0 0 17 18"><circle cx="10.5" cy="5.7" r="4.1" fill="#1c8f81"/><path d="M8.4 4.1 h4.2 M10.5 4.1 v3.4" stroke="#8fe6d8" stroke-width="1.1" fill="none"/><circle cx="6.1" cy="11.4" r="4.9" fill="#161a25"/><circle cx="6.1" cy="11.4" r="4.2" fill="#636cc4"/><path d="M6.1 8.7 L7.9 11.5 L6.1 14 L4.3 11.5 Z" fill="#d6d9ff"/></svg>
<div class="hdr"><span style="left:22.4px;letter-spacing:0.18px">Ethereum</span><span style="left:76.1px">/</span><span style="left:84.9px">TetherUS</span><span style="left:132.7px">·</span><span style="left:139.3px">4h</span><span style="left:153.3px">·</span><span style="left:159.9px">Binance</span></div>
<svg style="position:absolute;left:205.3px;top:7px" width="13" height="13" viewBox="0 0 13 13"><circle cx="6.7" cy="6.5" r="5.2" fill="#1a7f70" opacity="0.45"/><circle cx="6.7" cy="6.5" r="2.4" fill="#2bcfa5"/></svg>
<div class="chg">−42.35 (−1.01%)</div>
<div class="btn sell"><b>4,159.00</b><i>SELL</i></div>
<div class="spread">0.01</div>
<div class="btn buy"><b>4,159.01</b><i>BUY</i></div>
<div style="position:absolute;left:3px;top:68.5px;width:44.5px;height:16.3px;background:rgba(21,25,36,0.5)"></div>
<div style="position:absolute;left:3px;top:84.8px;width:24.2px;height:19.5px;background:rgba(21,25,36,0.5)"></div>
<div class="ind" style="top:55.4px">Vol · ETH</div>
<svg style="position:absolute;left:51px;top:55.5px" width="13" height="11" viewBox="0 0 13 11"><ellipse cx="6.5" cy="5.5" rx="5.3" ry="3.7" fill="none" stroke="#9699a3" stroke-width="1"/><circle cx="6.5" cy="5.5" r="1.5" fill="none" stroke="#9699a3" stroke-width="0.9"/><path d="M2.8 9.6 L10.2 1.4" stroke="#9699a3" stroke-width="1"/></svg>
<div class="ind" style="top:72px">SMA</div>
<svg style="position:absolute;left:29.5px;top:72.5px" width="13" height="11" viewBox="0 0 13 11"><ellipse cx="6.5" cy="5.5" rx="5.3" ry="3.7" fill="none" stroke="#9699a3" stroke-width="1"/><circle cx="6.5" cy="5.5" r="1.5" fill="none" stroke="#9699a3" stroke-width="0.9"/><path d="M2.8 9.6 L10.2 1.4" stroke="#9699a3" stroke-width="1"/></svg>
<div class="col"><svg style="position:absolute;left:5.5px;top:4px" width="8" height="6" viewBox="0 0 8 6"><path d="M1 4.6 L4 1.6 L7 4.6" fill="none" stroke="#d1d4dc" stroke-width="1.2"/></svg></div>
<div class="topbar"></div>
<div class="botbar"></div>
</body>
</html>
